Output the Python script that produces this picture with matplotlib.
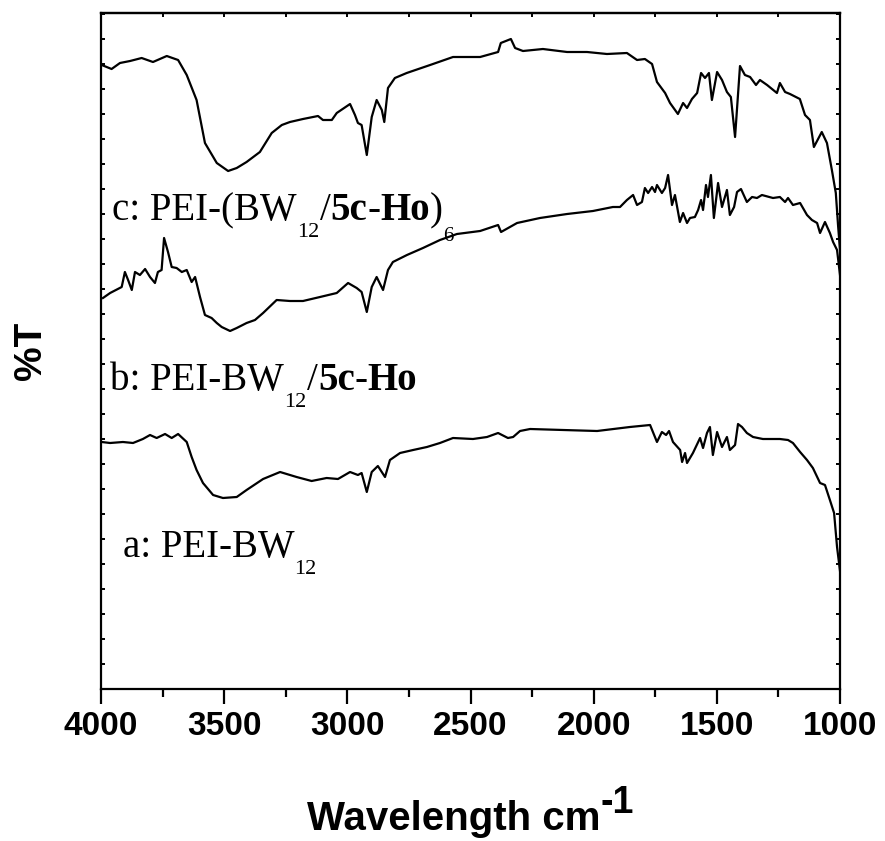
import matplotlib
matplotlib.use("Agg")
import matplotlib.pyplot as plt
import matplotlib.transforms as mtransforms
from matplotlib.ticker import MultipleLocator, NullFormatter

# ---- data (wavenumber cm-1, transmittance in arbitrary offset units) ----
wn_c = [3997, 3957, 3923, 3882, 3835, 3789, 3733, 3687, 3652, 3612, 3578, 3530, 3484, 3449, 3409, 3355,
        3307, 3266, 3233, 3180, 3119, 3099, 3063, 3043, 2989, 2969, 2957, 2942, 2921, 2901, 2881, 2860,
        2850, 2835, 2807, 2759, 2664, 2571, 2461, 2388, 2377, 2336, 2319, 2287, 2206, 2108, 2027, 1946,
        1865, 1824, 1792, 1763, 1743, 1710, 1690, 1658, 1637, 1621, 1601, 1580, 1564, 1548, 1532, 1520,
        1499, 1479, 1459, 1443, 1426, 1406, 1386, 1365, 1341, 1325, 1296, 1256, 1244, 1223, 1203, 1163,
        1142, 1122, 1106, 1074, 1053, 1033, 1017, 1008, 1000]
t_c = [624, 620, 626, 628, 631, 627, 633, 629, 614, 589, 546, 526, 518, 521, 527, 537,
       556, 564, 567, 570, 573, 569, 569, 576, 585, 574, 566, 564, 534, 572, 589, 579,
       567, 601, 611, 616, 624, 632, 632, 637, 646, 650, 641, 638, 640, 637, 637, 635,
       636, 629, 630, 625, 607, 596, 586, 575, 586, 581, 590, 596, 616, 611, 616, 589,
       617, 609, 597, 592, 552, 623, 614, 612, 604, 609, 604, 596, 606, 597, 595, 590,
       574, 569, 542, 557, 546, 519, 496, 464, 439]

wn_b = [3992, 3963, 3916, 3903, 3890, 3875, 3862, 3842, 3821, 3801, 3781, 3769, 3754, 3744, 3728, 3713,
        3693, 3672, 3652, 3632, 3618, 3598, 3578, 3551, 3530, 3510, 3476, 3449, 3409, 3375, 3342, 3287,
        3233, 3180, 3111, 3043, 2997, 2962, 2942, 2921, 2901, 2881, 2855, 2835, 2815, 2758, 2693, 2624,
        2555, 2461, 2388, 2376, 2311, 2218, 2108, 2003, 1922, 1893, 1865, 1840, 1824, 1804, 1792, 1779,
        1763, 1751, 1743, 1723, 1710, 1698, 1682, 1670, 1650, 1637, 1621, 1609, 1589, 1576, 1564, 1556,
        1544, 1536, 1524, 1512, 1495, 1479, 1459, 1447, 1430, 1418, 1402, 1378, 1357, 1337, 1317, 1272,
        1244, 1223, 1211, 1191, 1162, 1134, 1114, 1093, 1081, 1061, 1041, 1028, 1012, 1000]
t_b = [391, 396, 402, 417, 409, 399, 417, 414, 420, 412, 406, 417, 419, 451, 437, 422,
       421, 417, 419, 407, 412, 392, 374, 371, 366, 362, 358, 361, 366, 369, 376, 389,
       388, 388, 392, 396, 406, 401, 397, 377, 402, 412, 399, 419, 427, 434, 441, 449,
       455, 458, 464, 457, 466, 471, 475, 478, 482, 482, 489, 494, 484, 487, 501, 496,
       502, 497, 504, 496, 501, 514, 484, 494, 467, 476, 466, 471, 472, 479, 489, 479,
       504, 492, 514, 471, 506, 482, 499, 474, 482, 497, 500, 487, 492, 491, 494, 491,
       492, 487, 491, 484, 486, 474, 469, 466, 456, 467, 456, 447, 439, 414]

wn_a = [3997, 3963, 3911, 3870, 3830, 3801, 3774, 3740, 3713, 3687, 3652, 3632, 3612, 3586, 3545, 3505,
        3449, 3409, 3342, 3273, 3206, 3145, 3084, 3038, 2989, 2957, 2942, 2921, 2901, 2876, 2847, 2827,
        2786, 2733, 2677, 2624, 2571, 2490, 2433, 2388, 2348, 2327, 2299, 2258, 2124, 1986, 1853, 1771,
        1743, 1723, 1706, 1694, 1678, 1649, 1641, 1629, 1621, 1597, 1568, 1556, 1540, 1528, 1516, 1499,
        1479, 1459, 1447, 1426, 1414, 1398, 1378, 1353, 1313, 1244, 1211, 1191, 1162, 1134, 1110, 1081,
        1061, 1041, 1024, 1012, 1004, 1000]
t_a = [247, 246, 247, 246, 250, 254, 251, 255, 251, 255, 247, 232, 219, 206, 194, 191,
       192, 199, 210, 217, 212, 208, 211, 210, 217, 214, 216, 197, 217, 223, 212, 229,
       236, 239, 242, 246, 251, 250, 252, 256, 251, 252, 258, 260, 259, 258, 262, 264,
       247, 257, 254, 258, 247, 239, 227, 236, 226, 236, 251, 241, 256, 262, 234, 257,
       242, 252, 239, 244, 265, 262, 256, 252, 250, 250, 249, 246, 237, 229, 221, 206,
       204, 189, 176, 142, 126, 118]

xticks = [4000, 3500, 3000, 2500, 2000, 1500, 1000]
ylabel = "%T"
# rich-text pieces: (text, kind) ; kind: n=normal, b=bold, s=subscript, s2=small subscript
label_c = [("c: PEI-(BW", "n"), ("12", "s"), ("/", "n"), ("5c", "b"), ("-", "n"),
           ("Ho", "b"), (")", "n"), ("6", "s2")]
label_b = [("b: PEI-BW", "n"), ("12", "s"), ("/", "n"), ("5c", "b"), ("-", "n"), ("Ho", "b")]
label_a = [("a: PEI-BW", "n"), ("12", "s")]
xlabel_pieces = [("Wavelength cm", "n"), ("-1", "sup")]

fig = plt.figure(figsize=(8.85, 8.41), dpi=100)
ax = fig.add_axes([101/885, 1 - 689/841, 739/885, 676/841])

for wn, t in ((wn_c, t_c), (wn_b, t_b), (wn_a, t_a)):
    ax.plot(wn, t, color='black', lw=1.6, solid_joinstyle='round')

ax.set_xlim(4000, 1000)
ax.set_ylim(0, 676)

for s in ax.spines.values():
    s.set_linewidth(1.6)

ax.set_xticks(xticks)
ax.xaxis.set_minor_locator(MultipleLocator(250))
ax.tick_params(axis='x', which='major', direction='out', length=11, width=1.6, pad=5,
               labelsize=24)
ax.tick_params(axis='x', which='minor', direction='out', length=6, width=1.6)
for lab in ax.get_xticklabels():
    lab.set_fontfamily('Liberation Sans')
    lab.set_fontweight('bold')

ax.yaxis.set_major_locator(MultipleLocator(25))
ax.yaxis.set_major_formatter(NullFormatter())
ax.tick_params(axis='y', which='major', direction='in', length=3, width=1.4, left=True, right=True)

sec = ax.secondary_xaxis('top')
sec.xaxis.set_major_locator(MultipleLocator(250))
sec.xaxis.set_major_formatter(NullFormatter())
sec.tick_params(direction='in', length=3, width=1.4)
sec.spines['top'].set_linewidth(1.6)

ax.set_ylabel(ylabel, fontsize=28, fontweight='bold', family='Liberation Sans', labelpad=34)

renderer = fig.canvas.get_renderer()
ident = mtransforms.IdentityTransform()

serif_styles = {
    "n": dict(size=28, weight='normal', dy=0),
    "b": dict(size=28, weight='bold', dy=0),
    "s": dict(size=16, weight='normal', dy=-17),
    "s2": dict(size=15, weight='normal', dy=-21),
}
sans_styles = {
    "n": dict(size=29, weight='bold', dy=0),
    "sup": dict(size=27, weight='bold', dy=17),
}


def rich_text(x0, y0, pieces, styles, family, center=False):
    texts = []
    x = x0
    for s, kind in pieces:
        st = styles[kind]
        t = fig.text(x, y0 + st['dy'], s, transform=ident, fontsize=st['size'],
                     fontweight=st['weight'], family=family, ha='left', va='baseline')
        w = t.get_window_extent(renderer).width
        x += w + (1 if kind in ("s", "s2") else 0)
        texts.append(t)
    if center:
        total = x - x0
        for t in texts:
            px, py = t.get_position()
            t.set_position((px - total / 2, py))
    return texts


def place(wn, tv, pieces):
    xd, yd = ax.transData.transform((wn, tv))
    rich_text(xd, yd, pieces, serif_styles, 'Liberation Serif')


place(3955, 469, label_c)
place(3963, 299, label_b)
place(3911, 132, label_a)

# x-axis title with full-size raised superscript
ax_center = ax.transAxes.transform((0.5, 0))[0]
rich_text(ax_center, 841 - 830, xlabel_pieces, sans_styles, 'Liberation Sans', center=True)

fig.savefig("out.png", dpi=100)
